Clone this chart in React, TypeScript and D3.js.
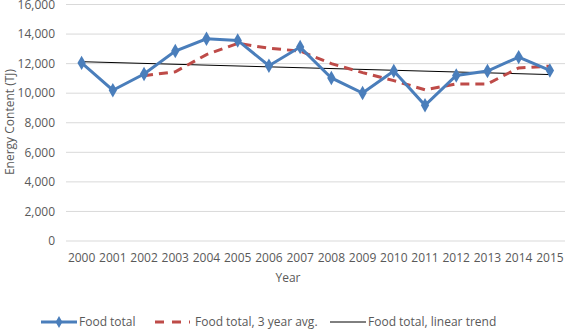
import React from "react";
import * as d3 from "d3";

const years = ["2000","2001","2002","2003","2004","2005","2006","2007","2008","2009","2010","2011","2012","2013","2014","2015"];
const foodTotal = [12050,10200,11300,12850,13680,13570,11860,13120,11030,10010,11500,9180,11200,11500,12440,11540];
const avgYears = ["2002","2003","2004","2005","2006","2007","2008","2009","2010","2011","2012","2013","2014","2015"];
const avg3 = [11180,11450,12610,13370,13040,12850,12000,11390,10850,10230,10630,10630,11710,11830];
const trendYears = ["2000","2015"];
const trendValues = [12130,11260];
const yTicks = [0,2000,4000,6000,8000,10000,12000,14000,16000];

const W = 565, H = 329;
const FONT = "'Open Sans', sans-serif";

export default function App() {
  const x = d3.scaleBand<string>().domain(years).range([66, 565.5]);
  const cx = (yr: string) => (x(yr) as number) + x.bandwidth() / 2;
  const y = d3.scaleLinear().domain([0, 16000]).range([241, 4.5]);
  const fmt = d3.format(",");
  const line = d3.line<[string, number]>().x(d => cx(d[0])).y(d => y(d[1]));
  const foodPts: [string, number][] = years.map((yr, i) => [yr, foodTotal[i]]);
  const avgPts: [string, number][] = avgYears.map((yr, i) => [yr, avg3[i]]);
  const trendPts: [string, number][] = trendYears.map((yr, i) => [yr, trendValues[i]]);
  const diamond = d3.symbol(d3.symbolDiamond, 60)() as string;
  const blue = "#4a7ebb";
  const red = "#be4b48";
  const txt = "#595959";
  const fs = 12;

  return (
    <svg width={W} height={H} style={{ position: "absolute", left: 0, top: 0, background: "#fff" }} fontFamily={FONT}>
      {yTicks.map(t => (
        <g key={t}>
          <line x1={66} x2={565} y1={y(t)} y2={y(t)} stroke="#d9d9d9" strokeWidth={1} />
          <text x={55} y={y(t)} dy="0.35em" textAnchor="end" fontSize={fs} fill={txt}>{fmt(t)}</text>
        </g>
      ))}
      {years.map(yr => (
        <text key={yr} x={cx(yr)} y={262} textAnchor="middle" fontSize={fs} fill={txt}>{yr}</text>
      ))}
      <text x={288} y={282} textAnchor="middle" fontSize={fs} fill={txt}>Year</text>
      <text transform={`translate(13.5,122) rotate(-90)`} textAnchor="middle" fontSize={fs} fill={txt}>Energy Content (TJ)</text>

      <path d={line(trendPts) as string} fill="none" stroke="#000" strokeWidth={1} />
      <path d={line(avgPts) as string} fill="none" stroke={red} strokeWidth={3} strokeDasharray="9,6" />
      <path d={line(foodPts) as string} fill="none" stroke={blue} strokeWidth={3} />
      {foodPts.map(p => (
        <path key={p[0]} d={diamond} transform={`translate(${cx(p[0])},${y(p[1])})`} fill={blue} />
      ))}

      <g>
        <line x1={41} x2={77} y1={322} y2={322} stroke={blue} strokeWidth={3} />
        <path d={d3.symbol(d3.symbolDiamond, 40)() as string} transform="translate(59,322)" fill={blue} />
        <text x={79} y={322} dy="0.35em" fontSize={fs} fill={txt}>Food total</text>
        <line x1={155} x2={190} y1={322} y2={322} stroke={red} strokeWidth={3} strokeDasharray="9,8" />
        <text x={195} y={322} dy="0.35em" fontSize={fs} fill={txt}>Food total, 3 year avg.</text>
        <line x1={330} x2={366} y1={322} y2={322} stroke="#000" strokeWidth={1} />
        <text x={368} y={322} dy="0.35em" fontSize={fs} fill={txt}>Food total, linear trend</text>
      </g>
    </svg>
  );
}
